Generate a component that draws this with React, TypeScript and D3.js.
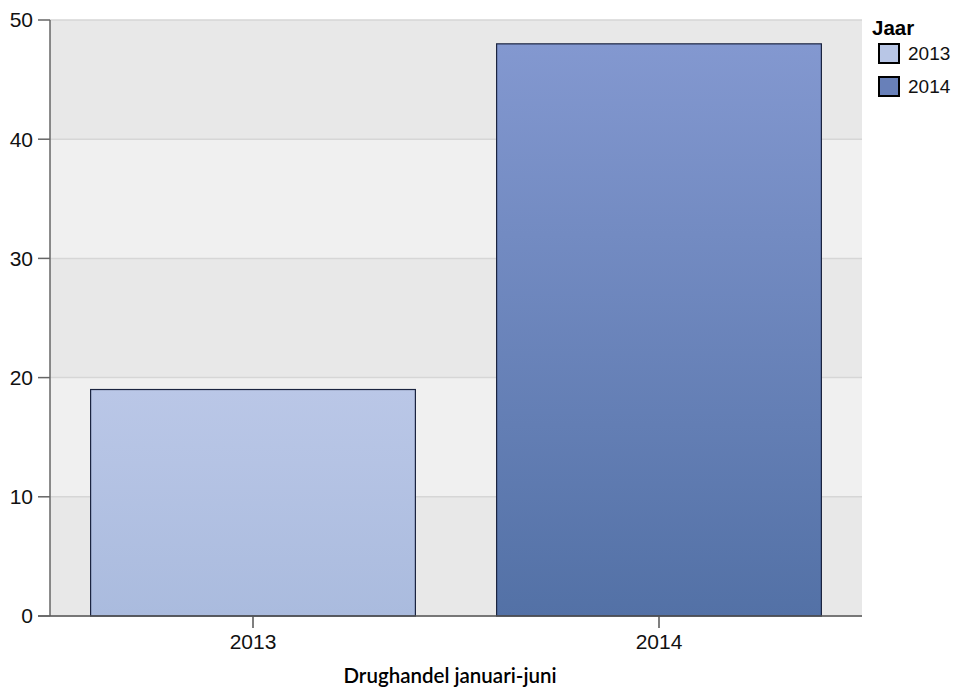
import React from "react";
import * as d3 from "d3";

const categories = ["2013", "2014"];
const values = [19, 48];
const yTicks = [0, 10, 20, 30, 40, 50];
const legendTitle = "Jaar";
const xTitle = "Drughandel januari-juni";
const gradTop = ["#bac7e7", "#8398d0"];
const gradBottom = ["#aabbde", "#5371a6"];
const swatch = ["#b8c6e6", "#6880b9"];

export default function App() {
  const W = 959, H = 690;
  const left = 50, right = 862, top = 20, bottom = 616;
  const x = d3.scaleBand<string>().domain(categories).range([left, right]).padding(0);
  const y = d3.scaleLinear().domain([0, 50]).range([bottom, top]);
  const bw = x.bandwidth() * 0.8;
  const font = "'Liberation Sans', Arial, sans-serif";
  const bands = d3.range(0, 50, 10);
  return (
    <svg width={W} height={H} style={{ position: "absolute", left: 0, top: 0 }}>
      <defs>
        {categories.map((c, i) => (
          <linearGradient key={c} id={`g${i}`} x1="0" y1="0" x2="0" y2="1">
            <stop offset="0" stopColor={gradTop[i]} />
            <stop offset="1" stopColor={gradBottom[i]} />
          </linearGradient>
        ))}
      </defs>
      {bands.map((b, i) => (
        <rect key={b} x={left} width={right - left} y={y(b + 10)} height={y(b) - y(b + 10)}
          fill={i % 2 === 0 ? "#e8e8e8" : "#f0f0f0"} />
      ))}
      {yTicks.map(t => (
        <line key={t} x1={left} x2={right} y1={y(t)} y2={y(t)} stroke="#d6d6d6" strokeWidth={1.5} />
      ))}
      {categories.map((c, i) => (
        <rect key={c} x={x(c)! + (x.bandwidth() - bw) / 2} width={bw} y={y(values[i])}
          height={y(0) - y(values[i])} fill={`url(#g${i})`} stroke="#1b2440" strokeWidth={1.2} />
      ))}
      <line x1={left} x2={left} y1={top} y2={bottom} stroke="#666" strokeWidth={1.5} />
      <line x1={38} x2={right} y1={bottom} y2={bottom} stroke="#555" strokeWidth={1.5} />
      {yTicks.map(t => (
        <g key={t}>
          <line x1={38} x2={left} y1={y(t)} y2={y(t)} stroke="#666" strokeWidth={1.5} />
          <text x={33} y={y(t)} dy="0.35em" textAnchor="end" fontFamily={font} fontSize={21} fill="#111">{t}</text>
        </g>
      ))}
      {categories.map(c => (
        <g key={c}>
          <line x1={x(c)! + x.bandwidth() / 2} x2={x(c)! + x.bandwidth() / 2} y1={bottom} y2={bottom + 12} stroke="#555" strokeWidth={1.5} />
          <text x={x(c)! + x.bandwidth() / 2} y={649} textAnchor="middle" fontFamily={font} fontSize={21} fill="#111">{c}</text>
        </g>
      ))}
      <text x={450} y={683} textAnchor="middle" fontFamily="Lato, 'Open Sans', sans-serif" fontWeight={600} fontSize={20.5} fill="#000">{xTitle}</text>
      <text x={872} y={35} fontFamily={font} fontWeight="bold" fontSize={20.5} fill="#000">{legendTitle}</text>
      {categories.map((c, i) => (
        <g key={c}>
          <rect x={879} y={44 + i * 33} width={20} height={19} fill={swatch[i]} stroke="#000" strokeWidth={2} />
          <text x={908} y={60 + i * 33} fontFamily={font} fontSize={19} fill="#111">{c}</text>
        </g>
      ))}
    </svg>
  );
}
